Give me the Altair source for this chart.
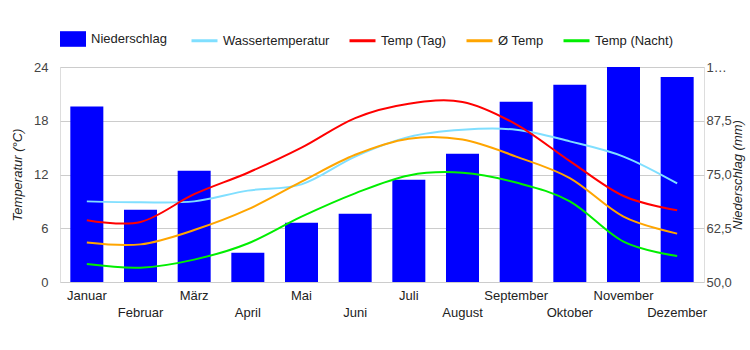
import json
import altair as alt
import pandas as pd

months = ["Januar", "Februar", "März", "April", "Mai", "Juni", "Juli",
          "August", "September", "Oktober", "November", "Dezember"]
niederschlag = [90.8, 66.8, 75.9, 56.8, 63.8, 65.9, 73.8, 79.8, 91.9, 95.9, 100.0, 97.7]
wasser = [9.0, 8.9, 9.0, 10.2, 10.9, 14.0, 16.2, 17.0, 17.0, 15.7, 14.0, 11.0]
tag = [6.9, 6.7, 9.8, 12.2, 15.0, 18.3, 19.9, 20.1, 17.6, 13.5, 9.6, 8.0]
avg = [4.4, 4.2, 5.8, 8.1, 11.2, 14.2, 16.0, 15.9, 14.0, 11.6, 7.3, 5.4]
nacht = [2.0, 1.6, 2.5, 4.3, 7.3, 9.9, 11.9, 12.2, 11.1, 9.0, 4.5, 2.9]

series_names = ["Wassertemperatur", "Temp (Tag)", "Ø Temp", "Temp (Nacht)"]
series_colors = ["#80dfff", "#ff0000", "#ffa500", "#00ee00"]
bar_name = "Niederschlag"
bar_color = "#0000ff"
temp_ticks = [0, 6, 12, 18, 24]
rain_ticks = [50, 62.5, 75, 87.5, 100]

bars_df = pd.DataFrame({"Monat": months, "Niederschlag": niederschlag, "label": bar_name})
rows = []
for name, vals in zip(series_names, [wasser, tag, avg, nacht]):
    for m, v in zip(months, vals):
        rows.append({"Monat": m, "Serie": name, "Wert": v})
lines_df = pd.DataFrame(rows)

second_row = json.dumps(months[1::2], ensure_ascii=False)
FONT = "Liberation Sans"

x_enc = alt.X(
    "Monat:N", sort=months,
    scale=alt.Scale(paddingInner=0.385, paddingOuter=0.1925),
    axis=alt.Axis(
        title=None, labelAngle=0, ticks=False, domain=False, grid=False,
        labelPadding=7, labelFontSize=13, labelColor="#222222", labelFont=FONT,
        labelLineHeight=17, labelBaseline="top",
        labelExpr=f"indexof({second_row}, datum.label) >= 0 ? ['', datum.label] : datum.label",
    ),
)

bars = alt.Chart(bars_df).mark_bar(opacity=1).encode(
    x=x_enc,
    y=alt.Y(
        "Niederschlag:Q",
        scale=alt.Scale(domain=[50, 100], nice=False, zero=False),
        axis=alt.Axis(
            orient="right", values=rain_ticks, grid=False, ticks=False, domain=False,
            labelPadding=2, labelFontSize=13, labelColor="#444444", labelFont=FONT,
            labelExpr="datum.value == 100 ? '1…' : replace(format(datum.value, '.1f'), '.', ',')",
            title="Niederschlag (mm)", titleFontStyle="italic", titleFontWeight="normal",
            titleFontSize=13, titleColor="#222222", titleFont=FONT,
            titleAngle=270, titleX=33, titleY=107.5, titleAlign="center", titleBaseline="middle",
        ),
    ),
    y2=alt.datum(50),
    fill=alt.Fill(
        "label:N",
        scale=alt.Scale(domain=[bar_name], range=[bar_color]),
        legend=alt.Legend(
            orient="none", legendX=0, legendY=-41, title=None, padding=0,
            symbolType="M-1,-0.6H1V0.6H-1Z", symbolSize=676, symbolStrokeWidth=0,
            symbolOpacity=1, labelOffset=5, labelFontSize=13, labelColor="#222222",
            labelFont=FONT,
        ),
    ),
)

lines = alt.Chart(lines_df).mark_line(strokeWidth=2, interpolate="cardinal", tension=0).encode(
    x=x_enc,
    y=alt.Y(
        "Wert:Q",
        scale=alt.Scale(domain=[0, 24], nice=False),
        axis=alt.Axis(
            orient="left", values=temp_ticks, grid=True, gridColor="#cccccc", gridWidth=1,
            ticks=False, domain=False, labelPadding=12, labelFontSize=13,
            labelColor="#444444", labelFont=FONT,
            title="Temperatur (°C)", titleFontStyle="italic", titleFontWeight="normal",
            titleFontSize=13, titleColor="#222222", titleFont=FONT,
            titleAngle=270, titleX=-43, titleY=107.5, titleAlign="center", titleBaseline="middle",
        ),
    ),
    stroke=alt.Stroke(
        "Serie:N",
        sort=series_names,
        scale=alt.Scale(domain=series_names, range=series_colors),
        legend=alt.Legend(
            orient="none", legendX=130, legendY=-41, title=None, padding=0,
            direction="horizontal", symbolType="stroke", symbolSize=676,
            symbolStrokeWidth=3, columnPadding=13, labelOffset=4,
            labelFontSize=13, labelColor="#222222", labelFont=FONT,
        ),
    ),
    order=alt.Order("month_idx:Q"),
).transform_calculate(
    month_idx=f"indexof({json.dumps(months, ensure_ascii=False)}, datum.Monat)"
)

chart = alt.layer(bars, lines).resolve_scale(y="independent").properties(
    width=644, height=215,
    autosize=alt.AutoSizeParams(type="none"),
    padding={"left": 60, "top": 67, "right": 46, "bottom": 68},
).configure_view(strokeWidth=0).configure(font=FONT)

chart.save("out.html", embed_options={"renderer": "svg", "actions": False})
